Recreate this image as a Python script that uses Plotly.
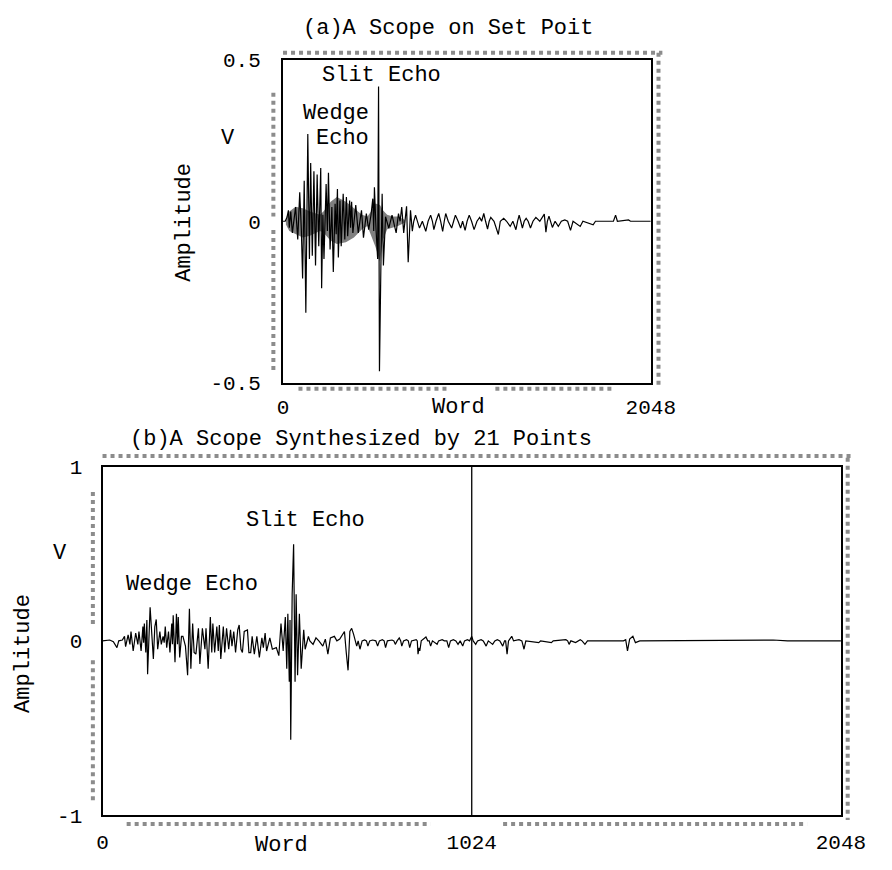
import plotly.graph_objects as go

W, H = 892, 870

# ---------------- data: (a) scope on set point ----------------
top_word = [0, 12, 22, 30, 35, 43, 52, 70, 82, 93, 102, 109, 118, 127, 138, 147, 154, 163, 172, 181,
            190, 199, 210, 215, 222, 228, 240, 247, 253, 262, 272, 280, 290, 296, 303, 308, 317, 324,
            335, 344, 353, 360, 371, 376, 382, 389, 405, 419, 437, 448, 464, 477, 490, 500, 505, 509,
            518, 527, 532, 537, 545, 552, 559, 571, 589, 607, 630, 643, 652, 661, 672, 680, 688, 697,
            704, 710, 720, 728, 738, 748, 760, 776, 795, 808, 822, 832, 840, 852, 867, 878, 889, 898,
            906, 920, 939, 950, 960, 975, 989, 1000, 1014, 1025, 1037, 1050, 1064, 1080, 1095, 1106,
            1118, 1128, 1139, 1148, 1157, 1175, 1199, 1210, 1229, 1245, 1265, 1280, 1297, 1306, 1315,
            1324, 1333, 1343, 1354, 1365, 1378, 1392, 1408, 1430, 1455, 1464, 1472, 1481, 1490, 1500,
            1515, 1533, 1550, 1569, 1585, 1601, 1615, 1655, 1670, 1727, 1740, 1840, 1852, 1862, 1924,
            1935, 2048]
top_amp = [0, 0, 0.012, 0.034, -0.02, 0.03, -0.036, 0.044, -0.056, 0.09, -0.026, -0.177, 0.125, -0.283,
           0.27, -0.117, 0.18, -0.107, 0.155, -0.137, 0.145, -0.077, 0.165, -0.207, 0.02, -0.117, 0.115,
           -0.03, 0.15, -0.087, 0.044, -0.157, 0.054, -0.04, 0.10, -0.112, 0.064, -0.077, 0.085, -0.056,
           0.075, -0.046, 0.064, -0.02, 0.06, -0.036, 0.05, -0.036, 0.034, -0.051, 0.024, -0.026, 0.02,
           0.07, -0.03, 0.105, -0.026, -0.117, 0.417, -0.464, -0.137, 0.085, -0.137, 0.014, -0.021,
           0.019, -0.036, 0.024, 0, 0.044, -0.036, 0, 0.046, -0.127, 0, 0.034, -0.031, 0, 0.019, 0,
           -0.021, 0, -0.031, 0, 0.019, 0, -0.026, 0, 0.024, 0, -0.031, 0, 0.024, 0, -0.021, 0, 0.019,
           0, -0.021, 0, -0.028, 0, 0.019, 0, -0.026, 0, 0.012, 0, 0.024, 0, -0.024, 0, 0.012, 0,
           -0.041, 0, 0.009, 0, -0.016, 0, -0.026, 0, 0.019, 0, -0.021, 0, 0.009, 0, -0.021, 0, 0.012,
           0, 0.022, -0.034, 0, 0.016, 0, -0.019, 0, -0.016, 0, 0.004, 0, -0.028, 0, -0.016, 0, -0.011,
           0, 0, 0.019, 0, 0.004, 0, 0]

# dense-noise envelope (grey band) of the top trace
band_word = [16, 35, 70, 110, 150, 205, 225, 265, 300, 350, 395, 440, 470, 490, 515, 540, 555, 580,
             610, 640, 680]
band_upper = [0.01, 0.03, 0.045, 0.04, 0.03, 0.02, 0.03, 0.06, 0.075, 0.06, 0.04, 0.02, 0.015, 0.03,
              0.055, 0.05, 0.035, 0.02, 0.015, 0.015, 0.004]
band_lower = [-0.01, -0.03, -0.04, -0.05, -0.045, -0.03, -0.035, -0.06, -0.07, -0.065, -0.05, -0.025,
              -0.015, -0.04, -0.08, -0.125, -0.06, -0.025, -0.02, -0.015, -0.004]

# ---------------- data: (b) scope synthesized by 21 points ----------------
bot_word = [0, 20, 30, 40, 45, 55, 61, 64, 71, 76, 79, 85, 92, 98, 101, 107, 112, 114, 116, 120, 123,
            125, 132, 137, 141, 145, 149, 153, 159, 163, 168, 171, 174, 178, 183, 187, 192, 194, 196,
            201, 205, 208, 210, 214, 219, 223, 230, 236, 241, 245, 250, 254, 259, 266, 270, 277, 284,
            287, 293, 299, 303, 306, 311, 317, 321, 324, 328, 335, 339, 344, 350, 355, 359, 364, 369,
            375, 379, 384, 388, 393, 402, 406, 411, 415, 421, 428, 435, 442, 446, 451, 455, 464, 471,
            482, 489, 495, 501, 507, 511, 514, 518, 520, 522, 526, 530, 534, 537, 541, 546, 551, 558,
            562, 571, 575, 584, 592, 600, 611, 618, 625, 632, 643, 650, 658, 665, 671, 676, 681, 686,
            691, 696,
            701, 705, 709, 714, 720, 727, 732, 736, 741, 749, 758, 763, 768, 776, 781, 785, 790, 803,
            808, 812, 817, 823, 827, 830, 835, 843, 848, 852, 857, 870, 873, 875, 878, 880, 884, 897,
            902, 906, 910, 915, 928, 932, 942, 948, 955, 960, 965, 973, 980, 986, 992, 999, 1004, 1012,
            1018, 1024, 1028, 1035, 1040, 1050, 1056, 1064, 1070, 1082, 1088, 1095, 1102, 1110, 1115,
            1118, 1122, 1126, 1135, 1140, 1155, 1163, 1169, 1174, 1210, 1215, 1245, 1250, 1285, 1290,
            1294, 1299, 1312, 1318, 1325, 1330, 1338, 1345, 1445, 1451, 1456, 1462, 1471, 1478, 1490,
            1860, 1900, 2048]
bot_amp = [0, 0.005, -0.005, -0.039, 0, 0.005, 0.026, -0.033, 0.035, -0.02, 0.054, -0.058, 0.045,
           -0.02, 0.054, -0.058, 0.082, -0.01, 0.10, -0.067, 0.119, -0.191, 0.193, -0.02, -0.104, 0.08,
           0.123, -0.048, 0.054, -0.02, 0.026, -0.01, 0.082, -0.039, 0.054, -0.067, 0.10, -0.02, 0.147,
           -0.123, 0.156, -0.02, 0.137, -0.095, 0.026, 0.026, -0.03, -0.197, 0.184, -0.16, 0.10,
           -0.067, -0.076, 0.072, -0.132, 0.072, -0.048, 0.072, -0.16, 0.137, -0.067, 0.10, -0.067,
           0.082, -0.058, 0.091, -0.104, 0.082, -0.067, 0.072, -0.048, 0.063, -0.03, 0.054, -0.067,
           0.063, 0.091, -0.048, -0.067, 0.054, 0.063, -0.067, -0.067, 0.026, -0.076, 0.026, -0.095,
           0.017, -0.039, 0.045, -0.058, 0.017, -0.048, -0.039, -0.085, 0.10, -0.058, 0.137, -0.16,
           0.156, -0.234, 0.12, -0.568, 0.27, 0.555, -0.234, 0.267, -0.197, 0.156, -0.16, 0.063,
           -0.048, 0.026, 0, -0.02, 0.017, 0, -0.03, 0.01, -0.076, 0.017, 0.026, 0, 0.01, 0.035, 0.054,
           -0.067, -0.169, 0.054, 0.072, 0.04,
           0, -0.03, 0, -0.048, 0, 0.005, 0, -0.03, 0, 0.005, 0, -0.03, 0, 0.007, 0, -0.039, 0, 0.005,
           0, -0.02, 0, 0.017, 0, -0.03, 0, 0.007, 0, -0.039, 0, 0.007, 0, -0.076, -0.04, -0.058, 0,
           0.022, 0, 0, -0.03, 0, -0.02, 0, 0.007, 0, 0, -0.039, 0, 0.007, 0, -0.02, 0, -0.03, 0, 0.007,
           0, 0.026, 0, -0.02, 0, 0.007, 0, -0.03, 0, -0.02, 0, 0.007, 0, -0.03, 0,
           0, -0.076, 0, 0.026, 0, 0.007, 0, -0.048, 0, -0.01, 0, -0.01, 0, 0.007, 0,
           -0.02, 0, -0.01, 0, 0.007, 0, -0.02, 0, 0, 0.007, -0.058, 0.01, 0.026, -0.01, 0,
           0.005, 0, 0]

marker_word = 1024

# ---------------- figure ----------------
FONT = "Liberation Mono, Courier New, monospace"


def px(x):
    return x / W


def py(y):
    return 1 - y / H


fig = go.Figure()

fig.add_trace(go.Scatter(
    x=band_word + band_word[::-1], y=band_upper + band_lower[::-1],
    fill="toself", fillcolor="#808080", line=dict(width=0), mode="lines",
    xaxis="x", yaxis="y", hoverinfo="skip", showlegend=False))
fig.add_trace(go.Scatter(
    x=top_word, y=top_amp, mode="lines", line=dict(color="black", width=1.2),
    xaxis="x", yaxis="y", showlegend=False))
fig.add_trace(go.Scatter(
    x=bot_word, y=bot_amp, mode="lines", line=dict(color="black", width=1.2),
    xaxis="x2", yaxis="y2", showlegend=False))
fig.add_trace(go.Scatter(
    x=[marker_word, marker_word], y=[-1, 1], mode="lines", line=dict(color="black", width=1.3),
    xaxis="x2", yaxis="y2", showlegend=False))

axis_common = dict(showline=True, mirror=True, linecolor="black", linewidth=2,
                   showgrid=False, zeroline=False, ticks="",
                   tickfont=dict(family=FONT, size=21, color="black"))

fig.update_layout(
    width=W, height=H, margin=dict(l=0, r=0, t=0, b=0),
    paper_bgcolor="white", plot_bgcolor="white", showlegend=False,
    xaxis=dict(domain=[px(287), px(668)], anchor="y", range=[0, 2048],
               tickvals=[0, 2048], ticktext=["0", "2048"], ticklabelstandoff=4, **axis_common),
    yaxis=dict(domain=[py(383), py(51)], anchor="x", range=[-0.5, 0.5],
               tickvals=[-0.5, 0, 0.5], ticktext=["-0.5", "0", "0.5"], ticklabelstandoff=16,
               **axis_common),
    xaxis2=dict(domain=[px(100), px(865)], anchor="y2", range=[0, 2048],
                tickvals=[0, 1024, 2048], ticktext=["0", "1024", "2048"], ticklabelstandoff=7,
                **axis_common),
    yaxis2=dict(domain=[py(827), py(469)], anchor="x2", range=[-1, 1],
                tickvals=[-1, 0, 1], ticktext=["-1", "0", "1"], ticklabelstandoff=14,
                **axis_common),
)


def ann(text, x, y, size=22, angle=0, xanchor="center"):
    fig.add_annotation(text=text, x=px(x), y=py(y), xref="paper", yref="paper",
                       showarrow=False, textangle=angle, xanchor=xanchor, yanchor="middle",
                       font=dict(family=FONT, size=size, color="black"))


ann("(a)A Scope on Set Poit", 458, 19)
ann("Slit Echo", 389, 67)
ann("Wedge", 378, 106, xanchor="right")
ann("Echo", 378, 132, xanchor="right")
ann("V", 230, 132)
ann("Amplitude", 185, 218, angle=-90)
ann("Word", 469, 408)

ann("(b)A Scope Synthesized by 21 Points", 368, 441)
ann("Wedge Echo", 193, 590)
ann("Slit Echo", 310, 524)
ann("V", 56, 558)
ann("Amplitude", 18, 661, angle=-90)
ann("Word", 285, 858)

# scanned hatch marks around the frames
hatch = dict(color="#8c8c8c", width=4, dash="dot")
segs = [
    (287, 44, 680, 44), (676, 44, 676, 388), (277, 85, 277, 212), (277, 226, 277, 372),
    (303, 389, 460, 389), (507, 389, 630, 389),
    (100, 458, 878, 458), (872, 460, 872, 832), (90, 495, 90, 632), (90, 668, 90, 815),
    (125, 836, 440, 836), (515, 836, 830, 836),
]
for x0, y0, x1, y1 in segs:
    fig.add_shape(type="line", xref="paper", yref="paper", x0=px(x0), y0=py(y0),
                  x1=px(x1), y1=py(y1), line=hatch)

fig.write_html("out.html", config={"displayModeBar": False},
               post_script="document.body.style.margin='0';document.body.style.overflow='hidden';")
